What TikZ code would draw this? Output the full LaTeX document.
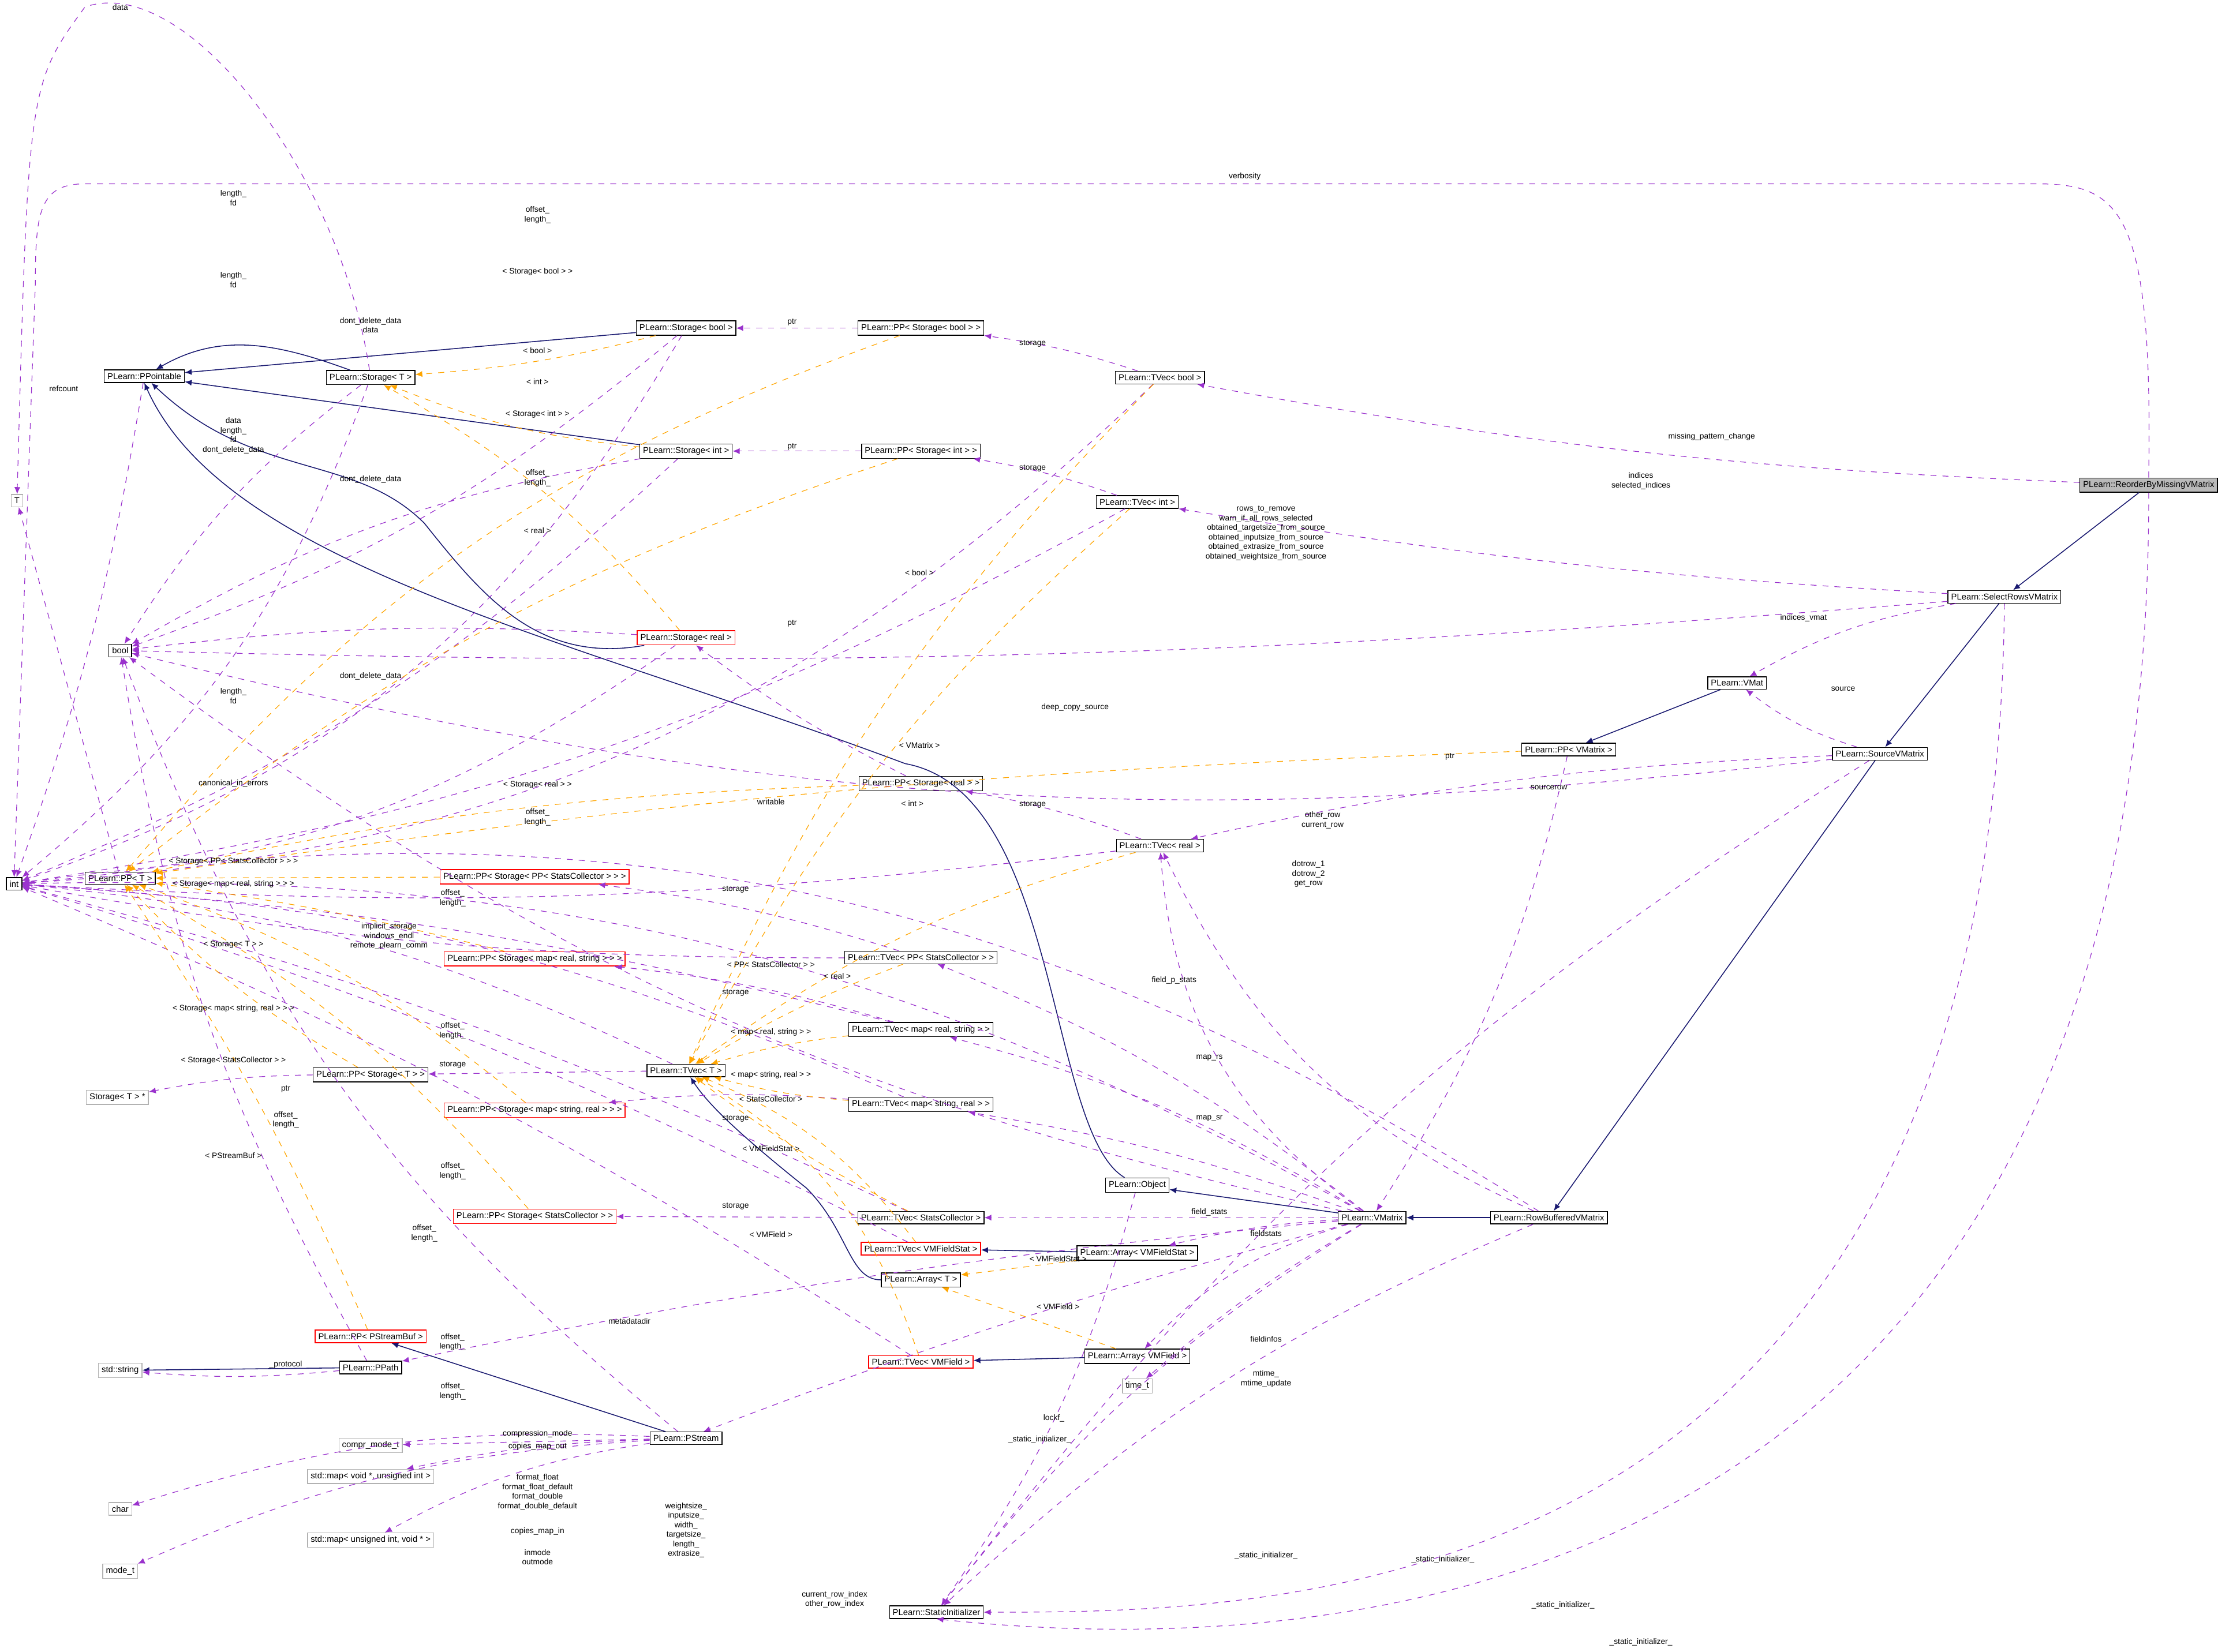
\documentclass[tikz,border=0pt]{standalone}
\usepackage{fontspec}
\setmainfont{Liberation Sans}
\usetikzlibrary{arrows.meta}
\definecolor{usecol}{HTML}{9A32CD}
\definecolor{inhcol}{HTML}{191970}
\definecolor{tmplcol}{HTML}{FFA500}
\tikzset{
  box/.style={draw, thin, fill=white, inner sep=1.6pt, font=\fontsize{4.3}{5}\selectfont},
  redbox/.style={box, draw=red},
  graybox/.style={box, draw=gray!60},
  lbl/.style={inner sep=0.5pt, align=center, font=\fontsize{4}{4.8}\selectfont},
  uses/.style={draw=usecol, dashed, line width=0.35pt, -{Latex[length=3.5pt,width=3pt]}, usecol},
  tmpl/.style={draw=tmplcol, dashed, line width=0.35pt, -{Latex[length=3.5pt,width=3pt]}, tmplcol},
  inh/.style={draw=inhcol, line width=0.45pt, -{Latex[length=3.5pt,width=3pt]}, inhcol}
}
\begin{document}
\begin{tikzpicture}[x=0.025cm, y=-0.025cm]
\useasboundingbox (0,0) rectangle (1568,1168);
% classes
\node[box, fill=gray!55] (rbm) at (1519,343) {PLearn::ReorderByMissingVMatrix};
\node[box] (srv) at (1417,422) {PLearn::SelectRowsVMatrix};
\node[box] (svm) at (1329,533) {PLearn::SourceVMatrix};
\node[box] (vmat) at (1228,483) {PLearn::VMat};
\node[box] (ppvm) at (1109,530) {PLearn::PP< VMatrix >};
\node[box] (rbv) at (1095,861) {PLearn::RowBufferedVMatrix};
\node[box] (vm) at (970,861) {PLearn::VMatrix};
\node[box] (obj) at (804,838) {PLearn::Object};
\node[box] (si) at (662,1140) {PLearn::StaticInitializer};
\node[box] (tvb) at (820,267) {PLearn::TVec< bool >};
\node[box] (tvi) at (804,355) {PLearn::TVec< int >};
\node[box] (tvr) at (820,598) {PLearn::TVec< real >};
\node[box] (ppsb) at (651,232) {PLearn::PP< Storage< bool > >};
\node[box] (ppsi) at (651,319) {PLearn::PP< Storage< int > >};
\node[box] (ppsr) at (651,554) {PLearn::PP< Storage< real > >};
\node[box] (stb) at (485,232) {PLearn::Storage< bool >};
\node[box] (sti) at (485,319) {PLearn::Storage< int >};
\node[redbox] (str) at (485,451) {PLearn::Storage< real >};
\node[box] (stt) at (262,267) {PLearn::Storage< T >};
\node[box] (ppt) at (102,266) {PLearn::PPointable};
\node[graybox] (T) at (12,354) {T};
\node[box] (bool) at (85,460) {bool};
\node[box] (int) at (10,625) {int};
\node[box] (ppT) at (85,621) {PLearn::PP< T >};
\node[redbox] (ppspsc) at (378,620) {PLearn::PP< Storage< PP< StatsCollector > > >};
\node[redbox] (ppsmrs) at (378,678) {PLearn::PP< Storage< map< real, string > > >};
\node[box] (tvpsc) at (651,677) {PLearn::TVec< PP< StatsCollector > >};
\node[box] (tvmrs) at (651,728) {PLearn::TVec< map< real, string > >};
\node[box] (tvT) at (485,757) {PLearn::TVec< T >};
\node[box] (ppsT) at (262,760) {PLearn::PP< Storage< T > >};
\node[graybox] (stTp) at (83,776) {Storage< T > *};
\node[redbox] (ppsmsr) at (378,785) {PLearn::PP< Storage< map< string, real > > >};
\node[box] (tvmsr) at (651,781) {PLearn::TVec< map< string, real > >};
\node[redbox] (ppssc) at (378,860) {PLearn::PP< Storage< StatsCollector > >};
\node[box] (tvsc) at (651,861) {PLearn::TVec< StatsCollector >};
\node[redbox] (tvvfs) at (651,883) {PLearn::TVec< VMFieldStat >};
\node[box] (avfs) at (804,886) {PLearn::Array< VMFieldStat >};
\node[box] (aT) at (651,905) {PLearn::Array< T >};
\node[redbox] (pppsb) at (262,945) {PLearn::PP< PStreamBuf >};
\node[box] (ppath) at (262,967) {PLearn::PPath};
\node[graybox] (sstr) at (85,969) {std::string};
\node[redbox] (tvvf) at (651,963) {PLearn::TVec< VMField >};
\node[box] (avf) at (804,959) {PLearn::Array< VMField >};
\node[graybox] (time) at (804,980) {time\_t};
\node[box] (pst) at (485,1017) {PLearn::PStream};
\node[graybox] (cmt) at (262,1022) {compr\_mode\_t};
\node[graybox] (mvu) at (262,1044) {std::map< void *, unsigned int >};
\node[graybox] (char) at (85,1067) {char};
\node[graybox] (muv) at (262,1089) {std::map< unsigned int, void * >};
\node[graybox] (mode) at (85,1111) {mode\_t};
% inheritance
\foreach \from/\to in {rbm/srv,srv/svm,svm/rbv,rbv/vm,vm/obj,vmat/ppvm,avfs/tvvfs,avf/tvvf,pst/pppsb,ppath/sstr,stb/ppt,sti/ppt}
  \draw[inh] (\from) -- (\to);
\draw[inh] (stt) to[out=160,in=30] (ppt);
\draw[inh] (str) .. controls (380,470) and (340,420) .. (300,370) .. controls (250,320) and (180,340) .. (ppt);
\draw[inh] (obj) .. controls (740,800) and (750,560) .. (640,540) .. controls (400,450) and (160,400) .. (ppt.south);
\draw[inh] (aT) .. controls (600,905) and (600,870) .. (570,840) .. controls (520,800) and (500,780) .. (tvT);
% uses
\foreach \from/\to/\b in {rbm/tvb/4, srv/tvi/3, srv/vmat/-10, svm/vmat/10, svm/tvr/-5, rbv/tvr/20,
  ppvm/vm/10, vm/tvr/25, vm/tvpsc/-8, vm/tvmrs/-8, vm/tvmsr/-5, vm/tvsc/0, vm/avfs/-5, vm/avf/-15,
  vm/time/-5, vm/pst/-3, vm/ppath/-3, vm/si/-10, obj/si/10, svm/si/-10, rbv/si/-10,
  ppsb/stb/0, ppsi/sti/0, ppsr/str/5, tvb/ppsb/-5, tvi/ppsi/-5, tvr/ppsr/-5, tvpsc/ppspsc/-5,
  tvmrs/ppsmrs/-5, tvT/ppsT/0, tvmsr/ppsmsr/-5, tvsc/ppssc/0, ppsT/stTp/-5, ppath/sstr/5,
  pst/cmt/0, pst/mvu/-5, pst/char/-10, pst/muv/-10, pst/mode/-10, ppt/int/5, ppT/T/0,
  stb/bool/10, stt/bool/-10, sti/bool/-10, str/bool/-5, svm/bool/10, vm/bool/12,
  stb/int/20, stt/int/15, sti/int/10, str/int/15, tvb/int/20, tvi/int/10, tvr/int/5,
  tvpsc/int/5, tvmrs/int/-5, tvT/int/-10, tvmsr/int/-10, tvsc/int/-5, tvvfs/int/-5, tvvf/int/-5,
  srv/bool/3, pst/bool/15, ppath/bool/10, vm/int/-15, rbv/int/-20}
  \draw[uses] (\from) to[bend left=\b] (\to);
\draw[uses] (rbm.north) .. controls (1522,150) and (1500,130) .. (1440,130) -- (60,130) .. controls (28,130) and (25,150) .. (25,200) -- (int.north);
\draw[uses] (stt) .. controls (240,120) and (130,-20) .. (60,5) .. controls (20,60) .. (T);
\draw[uses] (rbm.south) .. controls (1520,1170) and (900,1170) .. (si.south);
\draw[uses] (srv.south) .. controls (1410,1140) and (900,1140) .. (si.east);
% templates
\foreach \from/\to/\b in {stb/stt/5, sti/stt/8, str/stt/-10, ppsb/ppT/-15, ppsi/ppT/-10, ppsr/ppT/-5,
  ppvm/ppT/-3, ppspsc/ppT/0, ppsmrs/ppT/-3, ppsT/ppT/8, ppsmsr/ppT/-10, ppssc/ppT/-10, pppsb/ppT/-5,
  tvb/tvT/-10, tvi/tvT/-10, tvr/tvT/-10, tvpsc/tvT/-5, tvmrs/tvT/-5, tvmsr/tvT/5, tvsc/tvT/5,
  tvvfs/tvT/-15, tvvf/tvT/-20, avfs/aT/0, avf/aT/0}
  \draw[tmpl] (\from) to[bend left=\b] (\to);
% labels
\node[lbl] (l1) at (880,125) {verbosity};
\node[lbl] (l2) at (85,5) {data};
\node[lbl] (l3) at (380,152) {offset\_\\length\_};
\node[lbl] (l4) at (165,140) {length\_\\fd};
\node[lbl] (l5) at (165,198) {length\_\\fd};
\node[lbl] (l6) at (380,192) {< Storage< bool > >};
\node[lbl] (l7) at (262,230) {dont\_delete\_data\\data};
\node[lbl] (l8) at (380,248) {< bool >};
\node[lbl] (l9) at (560,228) {ptr};
\node[lbl] (l10) at (730,243) {storage};
\node[lbl] (l11) at (45,275) {refcount};
\node[lbl] (l12) at (380,270) {< int >};
\node[lbl] (l13) at (380,293) {< Storage< int > >};
\node[lbl] (l14) at (560,316) {ptr};
\node[lbl] (l15) at (1210,309) {missing\_pattern\_change};
\node[lbl] (l16) at (165,308) {data\\length\_\\fd\\dont\_delete\_data};
\node[lbl] (l17) at (730,331) {storage};
\node[lbl] (l18) at (380,338) {offset\_\\length\_};
\node[lbl] (l19) at (262,339) {dont\_delete\_data};
\node[lbl] (l20) at (1160,340) {indices\\selected\_indices};
\node[lbl] (l21) at (895,377) {rows\_to\_remove\\warn\_if\_all\_rows\_selected\\obtained\_targetsize\_from\_source\\obtained\_inputsize\_from\_source\\obtained\_extrasize\_from\_source\\obtained\_weightsize\_from\_source};
\node[lbl] (l22) at (380,375) {< real >};
\node[lbl] (l23) at (650,405) {< bool >};
\node[lbl] (l24) at (1275,437) {indices\_vmat};
\node[lbl] (l25) at (560,441) {ptr};
\node[lbl] (l26) at (262,478) {dont\_delete\_data};
\node[lbl] (l27) at (165,492) {length\_\\fd};
\node[lbl] (l28) at (1303,487) {source};
\node[lbl] (l29) at (760,500) {deep\_copy\_source};
\node[lbl] (l30) at (650,527) {< VMatrix >};
\node[lbl] (l31) at (1025,535) {ptr};
\node[lbl] (l32) at (380,555) {< Storage< real > >};
\node[lbl] (l33) at (165,554) {canonical\_in\_errors};
\node[lbl] (l34) at (1095,557) {sourcerow};
\node[lbl] (l35) at (730,569) {storage};
\node[lbl] (l36) at (645,568) {< int >};
\node[lbl] (l37) at (380,578) {offset\_\\length\_};
\node[lbl] (l38) at (545,567) {writable};
\node[lbl] (l39) at (935,580) {other\_row\\current\_row};
\node[lbl] (l40) at (925,618) {dotrow\_1\\dotrow\_2\\get\_row};
\node[lbl] (l41) at (165,609) {< Storage< PP< StatsCollector > > >};
\node[lbl] (l42) at (165,625) {< Storage< map< real, string > > >};
\node[lbl] (l43) at (520,629) {storage};
\node[lbl] (l44) at (320,635) {offset\_\\length\_};
\node[lbl] (l45) at (165,668) {< Storage< T > >};
\node[lbl] (l46) at (275,662) {implicit\_storage\\windows\_endl\\remote\_plearn\_comm};
\node[lbl] (l47) at (545,682) {< PP< StatsCollector > >};
\node[lbl] (l48) at (830,693) {field\_p\_stats};
\node[lbl] (l49) at (520,702) {storage};
\node[lbl] (l50) at (592,690) {< real >};
\node[lbl] (l51) at (165,713) {< Storage< map< string, real > > >};
\node[lbl] (l52) at (320,729) {offset\_\\length\_};
\node[lbl] (l53) at (545,730) {< map< real, string > >};
\node[lbl] (l54) at (320,753) {storage};
\node[lbl] (l55) at (855,748) {map\_rs};
\node[lbl] (l56) at (165,750) {< Storage< StatsCollector > >};
\node[lbl] (l57) at (545,760) {< map< string, real > >};
\node[lbl] (l58) at (202,770) {ptr};
\node[lbl] (l59) at (545,777) {< StatsCollector >};
\node[lbl] (l60) at (520,791) {storage};
\node[lbl] (l61) at (202,792) {offset\_\\length\_};
\node[lbl] (l62) at (855,791) {map\_sr};
\node[lbl] (l63) at (165,817) {< PStreamBuf >};
\node[lbl] (l64) at (320,828) {offset\_\\length\_};
\node[lbl] (l65) at (545,812) {< VMFieldStat >};
\node[lbl] (l66) at (520,853) {storage};
\node[lbl] (l67) at (855,857) {field\_stats};
\node[lbl] (l68) at (300,872) {offset\_\\length\_};
\node[lbl] (l69) at (545,873) {< VMField >};
\node[lbl] (l70) at (895,872) {fieldstats};
\node[lbl] (l71) at (748,890) {< VMFieldStat >};
\node[lbl] (l72) at (320,949) {offset\_\\length\_};
\node[lbl] (l73) at (748,924) {< VMField >};
\node[lbl] (l74) at (445,934) {metadatadir};
\node[lbl] (l75) at (895,947) {fieldinfos};
\node[lbl] (l76) at (202,965) {\_protocol};
\node[lbl] (l77) at (320,984) {offset\_\\length\_};
\node[lbl] (l78) at (895,975) {mtime\_\\mtime\_update};
\node[lbl] (l79) at (745,1003) {lockf\_};
\node[lbl] (l80) at (735,1018) {\_static\_initializer\_};
\node[lbl] (l81) at (380,1014) {compression\_mode};
\node[lbl] (l82) at (380,1023) {copies\_map\_out};
\node[lbl] (l83) at (380,1055) {format\_float\\format\_float\_default\\format\_double\\format\_double\_default};
\node[lbl] (l84) at (380,1083) {copies\_map\_in};
\node[lbl] (l85) at (380,1101) {inmode\\outmode};
\node[lbl] (l86) at (485,1082) {weightsize\_\\inputsize\_\\width\_\\targetsize\_\\length\_\\extrasize\_};
\node[lbl] (l87) at (590,1131) {current\_row\_index\\other\_row\_index};
\node[lbl] (l88) at (895,1100) {\_static\_initializer\_};
\node[lbl] (l89) at (1020,1103) {\_static\_initializer\_};
\node[lbl] (l90) at (1105,1135) {\_static\_initializer\_};
\node[lbl] (l91) at (1160,1161) {\_static\_initializer\_};
\end{tikzpicture}
\end{document}
